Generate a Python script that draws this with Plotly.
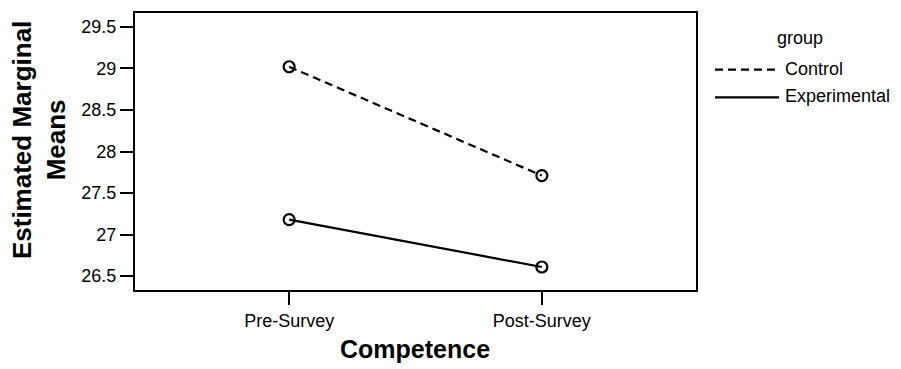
import plotly.graph_objects as go

# Estimated marginal means of competence, by survey time and group
occasions = ["Pre-Survey", "Post-Survey"]
control_means = [29.02, 27.71]
experimental_means = [27.18, 26.61]
group_names = ["Control", "Experimental"]
y_ticks = [26.5, 27, 27.5, 28, 28.5, 29, 29.5]

W, H = 901, 369
L, R, T, B = 135, 205, 11, 79
PW, PH = W - L - R, H - T - B


def px(x):
    return (x - L) / PW


def py(y):
    return (H - B - y) / PH


FONT = "Liberation Sans, Arial, sans-serif"

fig = go.Figure()
styles = {"Control": "8px,5px", "Experimental": "solid"}
for name, vals in zip(group_names, [control_means, experimental_means]):
    fig.add_trace(go.Scatter(
        x=occasions, y=vals, name=name, mode="lines+markers",
        line=dict(color="black", width=2.2, dash=styles[name]),
        marker=dict(symbol="circle-open", size=11, color="black",
                    line=dict(color="black", width=2.2)),
        showlegend=False,
    ))

axis_common = dict(
    showline=True, linecolor="black", linewidth=2, mirror=True,
    ticks="outside", ticklen=13, tickwidth=2, tickcolor="black",
    showgrid=False, zeroline=False,
    tickfont=dict(family=FONT, size=18, color="black"),
)

fig.update_xaxes(type="category", range=[-0.61, 1.61], **axis_common)
fig.update_yaxes(range=[26.333, 29.667], tickvals=y_ticks,
                 ticktext=[f"{v:g}" for v in y_ticks], **axis_common)

annotations = [
    dict(text="<b>Competence</b>", x=px(415), y=py(349), xref="paper", yref="paper",
         showarrow=False, xanchor="center", yanchor="middle",
         font=dict(family=FONT, size=25, color="black")),
    dict(text="<b>Estimated Marginal<br>Means</b>", x=px(39), y=py(139),
         xref="paper", yref="paper", showarrow=False, textangle=-90,
         xanchor="center", yanchor="middle",
         font=dict(family=FONT, size=26, color="black")),
    dict(text="group", x=px(800), y=py(36), xref="paper", yref="paper",
         showarrow=False, xanchor="center", yanchor="middle",
         font=dict(family=FONT, size=18, color="black")),
]

# Legend drawn by hand so the line samples have their full length
legend_rows = [(group_names[0], 68, styles["Control"]),
               (group_names[1], 96, styles["Experimental"])]
shapes = []
for name, yrow, dash in legend_rows:
    shapes.append(dict(type="line", xref="paper", yref="paper",
                       x0=px(715), x1=px(779), y0=py(yrow), y1=py(yrow),
                       line=dict(color="black", width=2.2, dash=dash)))
    annotations.append(dict(text=name, x=px(783), y=py(yrow - 1), xref="paper",
                            yref="paper", showarrow=False, xanchor="left",
                            yanchor="middle",
                            font=dict(family=FONT, size=18, color="black")))

fig.update_layout(
    width=W, height=H,
    margin=dict(l=L, r=R, t=T, b=B),
    paper_bgcolor="white", plot_bgcolor="white",
    annotations=annotations, shapes=shapes,
    showlegend=False,
)

fig.write_html("out.html")
